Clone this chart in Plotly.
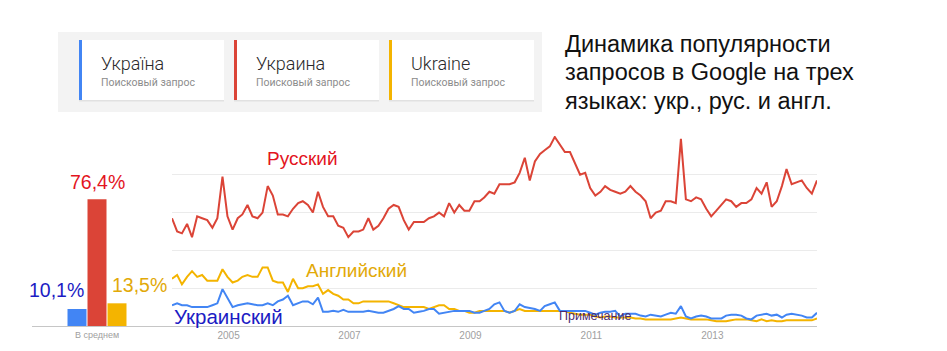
import pandas as pd
import plotly.graph_objects as go

# ---------------- data ----------------
months = pd.date_range("2004-01-01", periods=129, freq="MS")

russian = [57, 50, 49, 54, 47, 58, 57, 56, 52, 57, 79, 58, 51, 57, 59, 64, 58, 57, 60, 74,
           69, 59, 59, 58, 62, 65, 66, 64, 60, 71, 63, 58, 58, 53, 52, 47, 50, 50, 51, 57,
           51, 53, 57, 62, 64, 63, 56, 51, 55, 55, 55, 57, 58, 60, 58, 65, 60, 64, 61, 61,
           66, 66, 68, 71, 70, 75, 75, 75, 76, 81, 89, 77, 87, 91, 93, 95, 100, 96, 92, 92,
           86, 80, 81, 73, 69, 71, 74, 72, 71, 70, 71, 74, 71, 69, 66, 57, 60, 61, 66, 66,
           65, 99, 67, 66, 68, 67, 62, 58, 61, 64, 67, 66, 63, 65, 65, 67, 73, 70, 76, 63,
           66, 74, 83, 75, 76, 77, 73, 70, 77]

english = [25, 27, 22, 26, 29, 26, 27, 24, 24, 24, 30, 26, 23, 24, 26, 27, 26, 26, 31, 31,
           24, 23, 23, 18, 25, 20, 20, 21, 21, 22, 17, 19, 17, 16, 14, 14, 12, 12, 13, 13,
           13, 13, 13, 13, 12, 11, 10, 10, 10, 10, 10, 9, 10, 11, 11, 9, 9, 8, 8, 7,
           7, 8, 8, 8, 8, 8, 8, 7, 8, 9, 8, 8, 8, 8, 8, 8, 8, 8, 8, 7,
           6.5, 6, 6, 6, 5, 4.5, 5, 5, 4.5, 4.5, 4.5, 4.5, 4, 4, 3.5, 3.5, 3.5, 3.5, 3.5, 3.5,
           4, 4.5, 4, 3.5, 3.5, 3.5, 3.5, 3, 2.5, 2.5, 2.5, 3, 3.5, 3.5, 3.5, 3, 2.5, 3.5, 2.5, 3,
           2.5, 2.5, 3, 3, 3, 3, 3, 3, 4]

ukrainian = [11, 12, 11, 11, 10, 10, 10, 10, 11, 12, 19.5, 15, 10, 11, 11.5, 12, 11.5, 11, 11, 12,
             11, 13, 14, 16, 11, 12, 13, 13, 11.5, 15, 7.5, 7.5, 8, 7.5, 8.5, 7.5, 7.5, 7.5, 7.5, 8,
             7.5, 7, 7, 8, 9, 10.5, 9, 9, 7, 7.5, 8, 9, 9, 6.5, 7, 7.5, 8, 8, 8, 8,
             7, 7, 8, 9, 11.5, 12.5, 8, 7, 8, 11.5, 10, 9.5, 9, 8, 10.5, 11.5, 12.5, 8, 8, 8,
             8, 8, 8, 7, 6, 7, 7.5, 7.5, 8, 5, 6.5, 6.5, 6.5, 5.5, 5, 6, 5.5, 5, 6, 7,
             6.5, 10.5, 5, 4, 5, 5.5, 5, 4, 4, 4, 5.5, 6, 6, 5.5, 4, 3.5, 5.5, 6, 6.5, 5.5,
             6, 4.5, 6, 6.5, 6, 5.5, 4.5, 4.5, 7]

bar_positions = [0, 1, 2]
bar_values = [9, 67, 12]
bar_labels = ["10,1%", "76,4%", "13,5%"]

series_names = ["Украинский", "Русский", "Английский"]
card_titles = ["Україна", "Украина", "Ukraine"]
card_subtitle = "Поисковый запрос"
year_ticks = ["2005-01-01", "2007-01-01", "2009-01-01", "2011-01-01", "2013-01-01"]
year_labels = ["2005", "2007", "2009", "2011", "2013"]
title_lines = ["Динамика популярности", "запросов в Google на трех", "языках: укр., рус. и англ."]

# ---------------- styles ----------------
W, H = 947, 351
BLUE, RED, YELLOW = "#4285f4", "#db4437", "#f4b400"
LBL_BLUE, LBL_RED, LBL_YELLOW = "#1c1cc4", "#e3141e", "#e2a908"


def px(x):
    return x / W


def py(y):
    return 1 - y / H


fig = go.Figure()

fig.add_trace(go.Bar(
    x=bar_positions, y=bar_values, marker_color=[BLUE, RED, YELLOW],
    marker_line_width=0, width=0.95, xaxis="x", yaxis="y", hoverinfo="skip",
))

for vals, color in [(english, YELLOW), (ukrainian, BLUE), (russian, RED)]:
    fig.add_trace(go.Scatter(
        x=months, y=vals, mode="lines", line=dict(color=color, width=2),
        xaxis="x2", yaxis="y2", hoverinfo="skip",
    ))

ydom = [py(326), py(136)]
YR = [0, 100.5]
fig.update_layout(
    width=W, height=H, margin=dict(l=0, r=0, t=0, b=0),
    paper_bgcolor="white", plot_bgcolor="white", showlegend=False,
    font=dict(family="Arial, Liberation Sans, sans-serif"),
    xaxis=dict(domain=[px(32), px(172)], range=[-2.25, 4.75], showgrid=False, zeroline=False,
               showline=True, linecolor="#c6c6c6", linewidth=1,
               tickvals=[1], ticktext=["В среднем"], ticks="",
               tickfont=dict(size=9, color="#a0a0a0", family="Arial"), fixedrange=True),
    yaxis=dict(domain=ydom, range=YR, showgrid=False, zeroline=False,
               showticklabels=False, anchor="x"),
    xaxis2=dict(domain=[px(172), px(817)], range=["2004-01-01", "2014-09-01"],
                showgrid=False, zeroline=False, showline=True, linecolor="#c6c6c6", linewidth=1,
                tickvals=year_ticks, ticktext=year_labels, ticks="", ticklabelshift=-4,
                tickfont=dict(size=10, color="#a0a0a0", family="Arial"), anchor="y2"),
    yaxis2=dict(domain=ydom, range=YR, showgrid=True, gridcolor="#ebebeb", gridwidth=1,
                tickvals=[20, 40, 60, 80, 100], zeroline=False, showticklabels=False, anchor="x2"),
)

shapes = []
# header panel
shapes.append(dict(type="rect", xref="paper", yref="paper", x0=px(58), x1=px(542),
                   y0=py(112), y1=py(32), fillcolor="#f3f3f3", line_width=0, layer="above"))
card_x = [79, 234, 389]
card_colors = [BLUE, RED, YELLOW]
annotations = []
for cx, col, title in zip(card_x, card_colors, card_titles):
    shapes.append(dict(type="rect", xref="paper", yref="paper", x0=px(cx), x1=px(cx + 145),
                       y0=py(101.5), y1=py(40.5), fillcolor="#e1e1e1", line_width=0, layer="above"))
    shapes.append(dict(type="rect", xref="paper", yref="paper", x0=px(cx), x1=px(cx + 145),
                       y0=py(100), y1=py(40), fillcolor="white", line_width=0, layer="above"))
    shapes.append(dict(type="rect", xref="paper", yref="paper", x0=px(cx), x1=px(cx + 3),
                       y0=py(100), y1=py(40), fillcolor=col, line_width=0, layer="above"))
    annotations.append(dict(x=px(cx + 20), y=py(63), xref="paper", yref="paper", text=title,
                            showarrow=False, xanchor="left", yanchor="middle",
                            font=dict(family="Roboto", size=18, weight=300, color="#2a2a2a")))
    annotations.append(dict(x=px(cx + 20), y=py(83), xref="paper", yref="paper", text=card_subtitle,
                            showarrow=False, xanchor="left", yanchor="middle",
                            font=dict(family="Roboto", size=10.5, color="#8c8c8c")))
fig.update_layout(shapes=shapes)

for i, line in enumerate(title_lines):
    annotations.append(dict(x=px(563), y=py(44 + 28.5 * i), xref="paper", yref="paper", text=line,
                            showarrow=False, xanchor="left", yanchor="middle",
                            font=dict(family="Arial", size=23.5, color="#111111")))

# bar labels
bar_label_pos = [(56, 290, LBL_BLUE), (97, 182, LBL_RED), (139, 285, LBL_YELLOW)]
for (lx, ly, col), txt in zip(bar_label_pos, bar_labels):
    annotations.append(dict(x=px(lx), y=py(ly), xref="paper", yref="paper", text=txt,
                            showarrow=False, xanchor="center", yanchor="middle",
                            font=dict(family="Arial", size=19.5, color=col)))

# series labels
series_label_pos = [(228, 316, LBL_BLUE, 20.5), (302, 159, LBL_RED, 19), (356, 270, LBL_YELLOW, 19)]
for (lx, ly, col, fs), txt in zip(series_label_pos, series_names):
    annotations.append(dict(x=px(lx), y=py(ly), xref="paper", yref="paper", text=txt,
                            showarrow=False, xanchor="center", yanchor="middle",
                            font=dict(family="Arial", size=fs, color=col)))

annotations.append(dict(x=px(595), y=py(316), xref="paper", yref="paper", text="Примечание",
                        showarrow=False, xanchor="center", yanchor="middle",
                        font=dict(family="Arial", size=12.5, color="#4b2a6e")))

fig.update_layout(annotations=annotations)

fig.write_html("out.html")
